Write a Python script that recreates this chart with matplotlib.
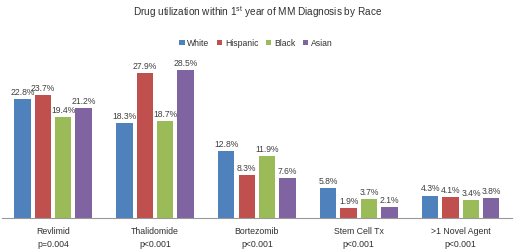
import matplotlib
matplotlib.use("Agg")
import matplotlib.pyplot as plt
import numpy as np

plt.rcParams["font.family"] = ["Liberation Sans", "DejaVu Sans"]

# --- Data ---
categories = ["Revlimid", "Thalidomide", "Bortezomib", "Stem Cell Tx", ">1 Novel Agent"]
p_values = ["p=0.004", "p<0.001", "p<0.001", "p<0.001", "p<0.001"]
races = ["White", "Hispanic", "Black", "Asian"]
white = [22.8, 18.3, 12.8, 5.8, 4.3]
hispanic = [23.7, 27.9, 8.3, 1.9, 4.1]
black = [19.4, 18.7, 11.9, 3.7, 3.4]
asian = [21.2, 28.5, 7.6, 2.1, 3.8]

series = [white, hispanic, black, asian]
colors = ["#4F81BD", "#C0504D", "#9BBB59", "#8064A2"]

fig = plt.figure(figsize=(5.2, 2.51), dpi=100)
ax = fig.add_axes([0.004, 0.1275, 0.98, 0.622])

x = np.arange(len(categories))
step = 0.2
width = 0.16
for i, (vals, name) in enumerate(zip(series, races)):
    pos = x + (i - 1.5) * step
    bars = ax.bar(pos, vals, width=width, color=colors[i], label=name)
    for b, v in zip(bars, vals):
        ax.text(b.get_x() + b.get_width() / 2, v + 0.6, f"{v:.1f}%",
                ha="center", va="bottom", fontsize=6.2, color="#404040")

ax.set_xlim(-0.5, len(categories) - 0.5)
ax.set_ylim(0, 30)
ax.set_yticks([])
ax.set_xticks(x)
ax.set_xticklabels([f"{c}\n{p}" for c, p in zip(categories, p_values)],
                   fontsize=6.3, color="#303030", linespacing=1.55)
ax.tick_params(axis="x", length=0, pad=6)
for s in ["top", "right", "left"]:
    ax.spines[s].set_visible(False)
ax.spines["bottom"].set_color("#999999")

fig.text(0.495, 0.95, r"Drug utilization within 1$^{\mathregular{st}}$ year of MM Diagnosis by Race",
         ha="center", va="center", fontsize=7.2, color="#303030")
fig.legend(loc="center", bbox_to_anchor=(0.492, 0.825), ncol=4, fontsize=6.2,
           frameon=False, handlelength=0.6, handleheight=0.6, handletextpad=0.3,
           columnspacing=0.9, labelcolor="#303030")

plt.savefig("out.png", dpi=100)
